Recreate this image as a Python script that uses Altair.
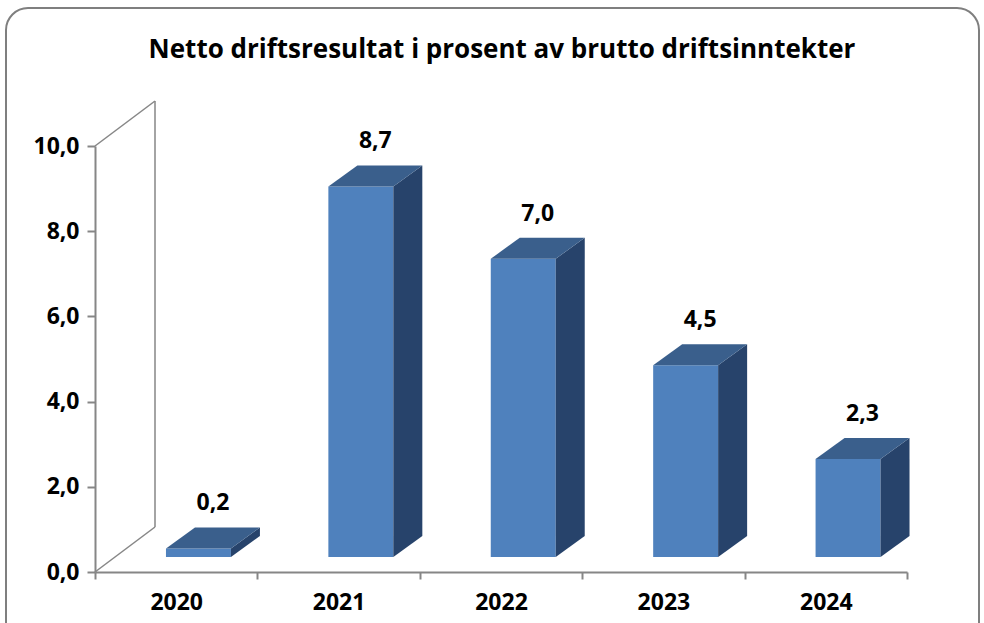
import altair as alt
import pandas as pd

# ---- data ----
years = ["2020", "2021", "2022", "2023", "2024"]
values = [0.2, 8.7, 7.0, 4.5, 2.3]
y_ticks = [0, 2, 4, 6, 8, 10]
title_text = "Netto driftsresultat i prosent av brutto driftsinntekter"

# ---- layout / style constants ----
W, H = 812, 426
FRONT_OFF, FRONT_W = 0.437, 0.40      # in category units
DX = 29 / (W / 5)                     # depth (x) in category units
DY = 21 / (H / 10)                    # depth (y) in value units
BASE_OFF = -15                        # bars float above the floor
FRONT, TOP, SIDE = "#4F81BD", "#3A5F8C", "#27436B"
GRAY = "#868686"
FONT = "Open Sans"
LSIZE = 23

rows = []
side_rows = []
top_rows = []
for i, (yr, v) in enumerate(zip(years, values)):
    x0 = i + FRONT_OFF
    x1 = x0 + FRONT_W
    rows.append(dict(year=yr, value=v, x0=x0, x1=x1, xc=(x0 + x1 + DX) / 2, ytop=v + DY))
    side_rows += [dict(year=yr, xs=x1, ylo=0, yhi=v), dict(year=yr, xs=x1 + DX, ylo=DY, yhi=v + DY)]
    top_rows += [dict(year=yr, yt=v, xa=x0, xb=x1), dict(year=yr, yt=v + DY, xa=x0 + DX, xb=x1 + DX)]

df = pd.DataFrame(rows)
df_side = pd.DataFrame(side_rows)
df_top = pd.DataFrame(top_rows)
df_years = pd.DataFrame({"year": years})
dummy = pd.DataFrame({"a": [0]})

xq = alt.Scale(domain=[0, 5], nice=False, zero=False)
ys = alt.Scale(domain=[0, 10], nice=False)
yaxis = alt.Axis(
    values=y_ticks, title=None, grid=False,
    labelExpr="replace(format(datum.value, '.1f'), '.', ',')",
    labelFont=FONT, labelFontWeight="bold", labelFontSize=LSIZE, labelColor="black",
    domainColor=GRAY, domainWidth=2, tickColor=GRAY, tickWidth=2, tickSize=8,
    labelPadding=8)

front = alt.Chart(df).mark_rect(color=FRONT, yOffset=BASE_OFF, y2Offset=BASE_OFF).encode(
    x=alt.X("x0:Q", scale=xq, axis=None),
    x2="x1:Q",
    y=alt.Y("value:Q", scale=ys, axis=yaxis),
    y2=alt.datum(0),
)

side = alt.Chart(df_side).mark_area(color=SIDE, orient="vertical", yOffset=BASE_OFF, y2Offset=BASE_OFF).encode(
    x=alt.X("xs:Q", scale=xq, axis=None),
    y=alt.Y("yhi:Q", scale=ys, axis=yaxis),
    y2="ylo:Q",
    detail="year:N",
)

top = alt.Chart(df_top).mark_area(color=TOP, orient="horizontal", yOffset=BASE_OFF).encode(
    y=alt.Y("yt:Q", scale=ys, axis=yaxis),
    x=alt.X("xa:Q", scale=xq, axis=None),
    x2="xb:Q",
    detail="year:N",
)

labels = alt.Chart(df).transform_calculate(
    lab="replace(format(datum.value, '.1f'), '.', ',')"
).mark_text(font=FONT, fontWeight="bold", fontSize=LSIZE, color="black",
            baseline="middle", yOffset=BASE_OFF - 24).encode(
    x=alt.X("xc:Q", scale=xq, axis=None),
    y=alt.Y("ytop:Q", scale=ys, axis=yaxis),
    text="lab:N",
)

year_axis = alt.Chart(df_years).mark_point(opacity=0).encode(
    x=alt.X("year:O", sort=years,
            scale=alt.Scale(type="band", paddingInner=0, paddingOuter=0),
            axis=alt.Axis(orient="bottom", title=None, tickBand="extent", labelAngle=0,
                          labelFont=FONT, labelFontWeight="bold", labelFontSize=LSIZE,
                          labelColor="black", domainColor=GRAY, domainWidth=2,
                          tickColor=GRAY, tickWidth=2, tickSize=7, labelPadding=12)),
)

# back wall of the 3D plot
wall = alt.Chart(dummy).mark_rule(color=GRAY, strokeWidth=1.5)
wall_top = wall.encode(x=alt.value(0), y=alt.value(0), x2=alt.value(60), y2=alt.value(-45))
wall_bot = wall.encode(x=alt.value(0), y=alt.value(H), x2=alt.value(60), y2=alt.value(H - 45))
wall_v = wall.encode(x=alt.value(60), y=alt.value(-45), x2=alt.value(60), y2=alt.value(H - 45))

border = alt.Chart(dummy).mark_rect(filled=False, stroke="#7f7f7f", strokeWidth=2, cornerRadius=22).encode(
    x=alt.value(-89), x2=alt.value(884), y=alt.value(-138), y2=alt.value(520)
)

title = alt.Chart(dummy).mark_text(font=FONT, fontWeight="bold", fontSize=26, color="black",
                                   baseline="middle", align="center").encode(
    x=alt.value(W / 2 + 1), y=alt.value(-96), text=alt.value(title_text)
)

chart = alt.layer(
    border, title, wall_top, wall_bot, wall_v, year_axis, front, side, top, labels
).resolve_scale(x="independent").properties(
    width=W, height=H,
    autosize=alt.AutoSizeParams(type="none"),
    padding={"left": 95, "top": 146, "right": 77, "bottom": 51},
    background="white",
).configure_view(stroke=None)

chart.save("out.html", embed_options={"renderer": "svg", "actions": False})
